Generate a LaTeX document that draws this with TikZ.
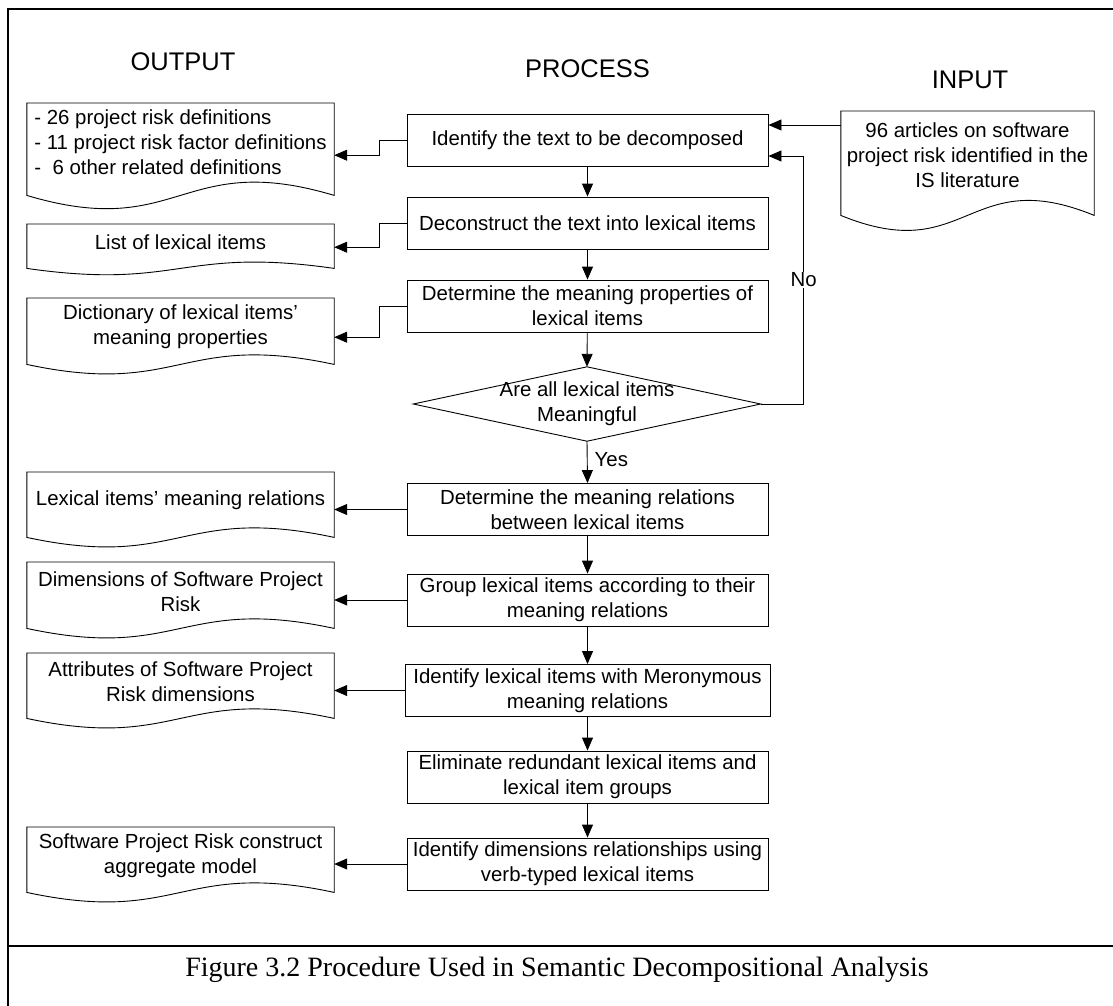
\documentclass[tikz,border=0pt]{standalone}
\usepackage{fontspec}
\setmainfont{Liberation Sans}
\newfontfamily\capfont{Liberation Serif}
\usetikzlibrary{arrows.meta,calc}
\newcommand\docout[3]{\draw[ln] (#1.north west) -- ($(#1.south west)+(0,#3)$) .. controls ($(#1.south)+(0,#3+#2)$) and ($(#1.south)+(0,#3-#2)$) .. ($(#1.south east)+(0,#3)$) -- (#1.north east) -- cycle;}
\begin{document}
\begin{tikzpicture}[x=1pt,y=-1pt,
 every node/.style={font=\fontsize{20.4}{25}\selectfont, inner sep=2pt},
 proc/.style={draw, line width=0.9pt, minimum width=361pt, minimum height=52pt, align=center},
 docnode/.style={minimum width=307pt, anchor=north, align=center},
 arr/.style={line width=0.9pt, -{Triangle[length=13pt,width=11pt]}},
 ln/.style={line width=0.9pt},
 hdr/.style={font=\fontsize{25.5}{30}\selectfont, anchor=base},
 frame/.style={line width=2.5pt}
 ]
\useasboundingbox (0,0) rectangle (1113,1005);
\clip (0,0) rectangle (1113,1005);

% frame
\draw[frame] (8,1030) -- (8,9) -- (1130,9);
\draw[frame] (8,946) -- (1130,946);
\node[font=\capfont\fontsize{28}{32}\selectfont] (cap) at (557,970) {Figure 3.2 Procedure Used in Semantic Decompositional Analysis};

% headers
\node[hdr] (hout) at (183,70) {OUTPUT};
\node[hdr] (hproc) at (587.5,77.5) {PROCESS};
\node[hdr] (hin) at (970,88) {INPUT};

% process column
\node[proc] (p1) at (587.5,140) {Identify the text to be decomposed};
\node[proc] (p2) at (587.5,223) {Deconstruct the text into lexical items};
\node[proc] (p3) at (587.5,306) {Determine the meaning properties of\\lexical items};
\node[minimum width=347pt, minimum height=74pt, align=center] (dec) at (587,404) {Are all lexical items\\Meaningful};
\draw[ln] (dec.west) -- (dec.north) -- (dec.east) -- (dec.south) -- cycle;
\node[proc] (p4) at (587.5,509.5) {Determine the meaning relations\\between lexical items};
\node[proc] (p5) at (587.5,600) {Group lexical items according to their\\meaning relations};
\node[proc, minimum width=365pt] (p6) at (587.5,690.5) {Identify lexical items with Meronymous\\meaning relations};
\node[proc] (p7) at (587.5,777) {Eliminate redundant lexical items and\\lexical item groups};
\node[proc] (p8) at (587.5,864) {Identify dimensions relationships using\\verb-typed lexical items};

% output documents
\node[docnode, minimum height=78pt, align=left] (o1) at (180.5,103) {- 26 project risk definitions\\- 11 project risk factor definitions\\-\ \ 6 other related definitions};
\docout{o1}{46}{14}
\node[docnode, minimum height=36pt] (o2) at (180.5,224) {List of lexical items};
\docout{o2}{22}{8}
\node[docnode, minimum height=58pt] (o3) at (180.5,298) {Dictionary of lexical items’\\meaning properties};
\docout{o3}{33}{8}
\node[docnode, minimum height=57pt] (o4) at (180.5,472) {Lexical items’ meaning relations};
\docout{o4}{33}{8}
\node[docnode, minimum height=58pt] (o5) at (180.5,562) {Dimensions of Software Project\\Risk};
\docout{o5}{33}{8}
\node[docnode, minimum height=57pt] (o6) at (180.5,653) {Attributes of Software Project\\Risk dimensions};
\docout{o6}{33}{8}
\node[docnode, minimum height=57pt] (o7) at (180.5,827) {Software Project Risk construct\\aggregate model};
\docout{o7}{33}{8}

% input document
\node[docnode, minimum width=253pt, minimum height=88pt] (in) at (967.5,111) {96 articles on software\\project risk identified in the\\IS literature};
\docout{in}{52}{16}

% process flow
\draw[arr] (p1) -- (p2);
\draw[arr] (p2) -- (p3);
\draw[arr] (p3) -- (dec.north);
\draw[arr] (dec.south) -- node[right=5pt, pos=0.45] (yes) {Yes} (p4.north);
\draw[arr] (p4) -- (p5);
\draw[arr] (p5) -- (p6);
\draw[arr] (p6) -- (p7);
\draw[arr] (p7) -- (p8);

% loop back
\coordinate (lp) at ($(dec.east)+(43,0)$);
\coordinate (lq) at ($(p1.east)+(35,16)$);
\draw[arr] (dec.east) -- (lp) -- node[fill=white, inner sep=1pt] (no) {No} (lp |- lq) -- (lq -| p1.east);

% input arrow
\coordinate (ia) at ($(in.north west)+(0,14)$);
\draw[arr] (ia) -- (ia -| p1.east);

% outputs
\draw[arr] (p1.west) -- ++(-27,0) |- ($(o1.east)+(0,13)$);
\draw[arr] (p2.west) -- ++(-27,0) |- ($(o2.east)+(0,5)$);
\draw[arr] (p3.west) -- ++(-27,0) |- ($(o3.east)+(0,10)$);
\draw[arr] (p4.west) -- (p4.west -| o4.east);
\draw[arr] (p5.west) -- (p5.west -| o5.east);
\draw[arr] (p6.west) -- (p6.west -| o6.east);
\draw[arr] (p8.west) -- (p8.west -| o7.east);
\end{tikzpicture}
\end{document}
